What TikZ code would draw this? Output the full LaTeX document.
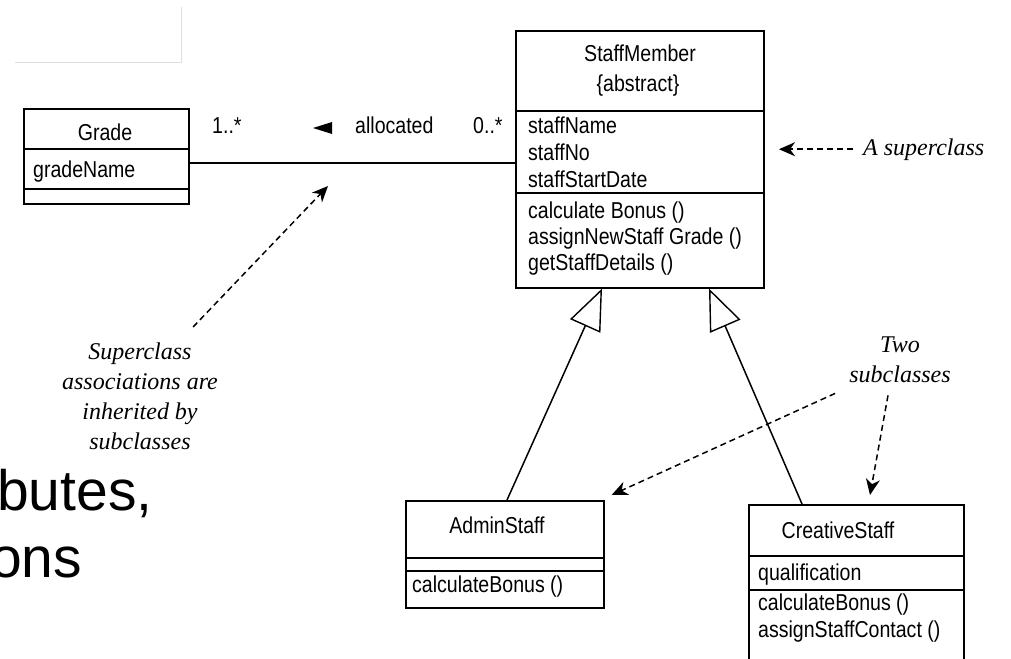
\documentclass[tikz,border=0pt]{standalone}
\usepackage{fontspec}
\setmainfont{Liberation Sans}
\newfontfamily\umlfont[FakeStretch=0.85]{Liberation Sans}
\newfontfamily\notefont{Liberation Serif}
\usepackage{tikz}
\usetikzlibrary{shapes,arrows.meta}
\tikzstyle{class} = [rectangle, draw, line width=1.6pt, anchor=north west,
    inner sep=0pt]
\tikzstyle{member} = [anchor=base west, inner sep=0pt,
    font=\umlfont\fontsize{23}{26}\selectfont]
\tikzstyle{title} = [member, anchor=base]
\tikzstyle{sep} = [draw, line width=1.6pt]
\tikzstyle{line} = [draw, line width=1.4pt]
\tikzstyle{gen} = [draw, line width=1.5pt,
    -{Triangle[open, length=41pt, width=33pt, line width=1.4pt]}]
\tikzstyle{note} = [inner sep=0pt, align=center,
    font=\notefont\itshape\fontsize{24}{30}\selectfont]
\tikzstyle{pointer} = [draw, line width=1.5pt, dash pattern=on 6pt off 4pt,
    -{Stealth[length=16pt, width=14pt, inset=5pt]}]
\tikzstyle{bullet} = [anchor=base west, inner sep=0pt,
    font=\fontsize{57}{67}\selectfont]
\begin{document}
\begin{tikzpicture}[x=1pt, y=-1pt]
    \clip (0,0) rectangle (1011,658);
    % faint frame, top left
    \draw [gray!25, line width=1pt] (15,63) -- (181,63) -- (181,7);

    % Place nodes
    \node [class, minimum width=165pt, minimum height=95pt] (grade) at (23,108) {};
    \node [class, minimum width=248pt, minimum height=257pt] (staff) at (515,30) {};
    \node [class, minimum width=198pt, minimum height=107pt] (admin) at (405,500) {};
    \node [class, minimum width=215pt, minimum height=190pt] (creative) at (748,504) {};

    % Compartments
    \path [sep] ([yshift=-41pt]grade.north west) -- ([yshift=-41pt]grade.north east);
    \path [sep] ([yshift=-81pt]grade.north west) -- ([yshift=-81pt]grade.north east);
    \path [sep] ([yshift=-81pt]staff.north west) -- ([yshift=-81pt]staff.north east);
    \path [sep] ([yshift=-163pt]staff.north west) -- ([yshift=-163pt]staff.north east);
    \path [sep] ([yshift=-58pt]admin.north west) -- ([yshift=-58pt]admin.north east);
    \path [sep] ([yshift=-71pt]admin.north west) -- ([yshift=-71pt]admin.north east);
    \path [sep] ([yshift=-52pt]creative.north west) -- ([yshift=-52pt]creative.north east);
    \path [sep] ([yshift=-86pt]creative.north west) -- ([yshift=-86pt]creative.north east);

    % Class texts
    \node [title] (gradeT) at (105,140) {Grade};
    \node [member] (gradeA) at (33,177) {gradeName};

    \node [title] (staffT) at (640,62) {StaffMember};
    \node [title] (staffK) at (638,92) {\{abstract\}};
    \node [member] (staffA1) at (528,133) {staffName};
    \node [member] (staffA2) at (528,160) {staffNo};
    \node [member] (staffA3) at (528,187) {staffStartDate};
    \node [member] (staffO1) at (528,218) {calculate Bonus ()};
    \node [member] (staffO2) at (528,244) {assignNewStaff Grade ()};
    \node [member] (staffO3) at (528,270) {getStaffDetails ()};

    \node [title] (adminT) at (497,533) {AdminStaff};
    \node [member] (adminO1) at (412,592) {calculateBonus ()};

    \node [title] (creativeT) at (838,538) {CreativeStaff};
    \node [member] (creativeA1) at (758,580) {qualification};
    \node [member] (creativeO1) at (758,610) {calculateBonus ()};
    \node [member] (creativeO2) at (758,637) {assignStaffContact ()};

    % Association
    \coordinate (assocL) at ([yshift=-55pt]grade.north east);
    \path [line] (assocL) -- (assocL -| staff.west);
    \node [member] (mult1) at (212,133) {1..*};
    \node [member] (alloc) at (355,133) {allocated};
    \node [member] (mult0) at (473,133) {0..*};
    \fill ([xshift=-42pt,yshift=5pt]alloc.base west) -- ++(19,-6) -- ++(0,12) -- cycle;

    % Generalisation
    \path [gen] ([xshift=102pt]admin.north west) -- ([xshift=87pt]staff.south west);
    \path [gen] ([xshift=54pt]creative.north west) -- ([xshift=194pt]staff.south west);

    % Notes
    \node [note, anchor=base west] (sup) at (863,155) {A superclass};
    \path [pointer] ([xshift=-10pt]sup.west) -- ([xshift=-84pt]sup.west);

    \node [note, anchor=north] (inh) at (140,343) {Superclass\\associations are\\inherited by\\subclasses};
    \coordinate (assocTip) at (328,186);
    \path [pointer] ([xshift=-25pt,yshift=16pt]inh.north east) -- (assocTip);

    \node [note, anchor=north] (two) at (900,337) {Two\\subclasses};
    \path [pointer] ([xshift=-14pt,yshift=-10pt]two.south west) -- ([xshift=7pt,yshift=5pt]admin.north east);
    \path [pointer] ([xshift=-12pt,yshift=-12pt]two.south) -- ([xshift=122pt,yshift=9pt]creative.north west);

    % Slide text behind
    \node [bullet] (attrs) at (-3,510) {butes,};
    \node [bullet] (ops) at (-10,577) {ons};
\end{tikzpicture}
\end{document}
